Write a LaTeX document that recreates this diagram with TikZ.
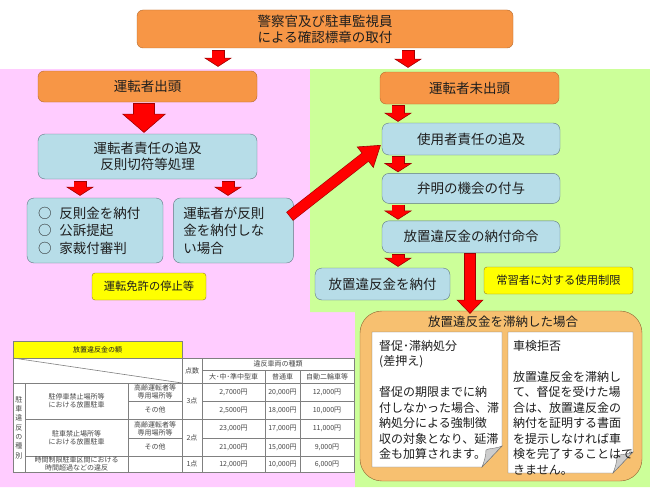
\documentclass[tikz,border=0pt]{standalone}
\usepackage{fontspec}
\setmainfont{Noto Sans CJK JP}
\usepackage{tikz}
\usetikzlibrary{positioning,calc,arrows.meta}
\usepackage{xcolor}
\definecolor{ink}{RGB}{30,30,30}
\definecolor{pinkbg}{RGB}{255,204,255}
\definecolor{greenbg}{RGB}{204,255,153}
\definecolor{orangefill}{RGB}{247,150,70}
\definecolor{orangeedge}{RGB}{180,105,45}
\definecolor{bluefill}{RGB}{183,221,232}
\definecolor{blueedge}{RGB}{95,120,130}
\definecolor{yellowfill}{RGB}{255,255,0}
\definecolor{yellowedge}{RGB}{150,120,40}
\definecolor{arrowred}{RGB}{255,0,0}
\definecolor{arrowedge}{RGB}{160,0,0}
\definecolor{arrearsfill}{RGB}{247,192,112}
\definecolor{arrearsedge}{RGB}{140,100,50}
\definecolor{noteedge}{RGB}{110,110,110}
\definecolor{foldgray}{RGB}{205,205,205}
\definecolor{tableline}{RGB}{128,128,128}
\definecolor{tabletext}{RGB}{70,70,70}

\begin{document}
\begin{tikzpicture}[
    x=1pt, y=-1pt,
    every node/.style={font=\fontsize{13.5}{16}\selectfont, text=ink, inner sep=0pt},
    obox/.style={
        draw=orangeedge,
        fill=orangefill,
        rounded corners=6pt,
        align=center
    },
    bbox/.style={
        draw=blueedge,
        fill=bluefill,
        rounded corners=7pt,
        align=center
    },
    ybox/.style={
        draw=yellowedge,
        fill=yellowfill,
        rounded corners=3pt,
        font=\fontsize{11.3}{13}\selectfont
    },
    redflow/.style n args={5}{
        draw=arrowedge,
        line width=#1,
        -{Triangle[width=#2,length=#3,line width=0.6pt,fill=arrowred]},
        postaction={draw=arrowred, line width=#4, -, shorten >=#5, shorten <=0.6pt}
    },
    smallflow/.style={redflow={13pt}{28pt}{9pt}{11.8pt}{7.5pt}},
    bigflow/.style={redflow={22pt}{44pt}{19pt}{20.8pt}{17.5pt}},
    longflow/.style={redflow={12pt}{27pt}{14pt}{10.8pt}{12.5pt}},
    diagflow/.style={redflow={11pt}{27pt}{20pt}{9.8pt}{18.5pt}},
    notetext/.style={font=\fontsize{12}{15.5}\selectfont, align=left},
    tabcell/.style={font=\fontsize{7}{8}\selectfont, text=tabletext, align=center},
    tabrule/.style={draw=tableline, line width=0.6pt}
]

\useasboundingbox (0,0) rectangle (650,487);

% backgrounds
\fill[white] (0,0) rectangle (650,487);
\fill[pinkbg] (0,69) -- (310,69) -- (310,312) -- (355,312) -- (355,487) -- (0,487) -- cycle;
\fill[greenbg] (310,69) -- (650,69) -- (650,487) -- (355,487) -- (355,312) -- (310,312) -- cycle;

\node[
    obox,
    minimum width=376pt,
    minimum height=38pt
] (police) at (325,29)
{警察官及び駐車監視員\\による確認標章の取付};

\node[
    obox,
    minimum width=219pt,
    minimum height=31pt
] (driver) at (147.5,86.5)
{運転者出頭};

\node[
    obox,
    minimum width=179pt,
    minimum height=32pt
] (absent) at (469.5,88)
{運転者未出頭};

\node[
    bbox,
    minimum width=219pt,
    minimum height=45pt
] (liability) at (147.5,156.5)
{運転者責任の追及\\反則切符等処理};

\node[
    bbox,
    minimum width=136pt,
    minimum height=65pt,
    text width=114pt,
    align=left,
    font=\fontsize{13.5}{17.5}\selectfont
] (settled) at (95,230.5)
{○\hspace{8pt}反則金を納付\\○\hspace{8pt}公訴提起\\○\hspace{8pt}家裁付審判};

\node[
    bbox,
    right=10pt of settled,
    minimum width=120pt,
    minimum height=65pt,
    text width=100pt,
    align=left,
    font=\fontsize{13.5}{17.5}\selectfont
] (unpaid)
{運転者が反則\\金を納付しな\\い場合};

\node[
    ybox,
    minimum width=114pt,
    minimum height=27pt
] (suspension) at (149,286.5)
{運転免許の停止等};

\node[
    bbox,
    minimum width=178pt,
    minimum height=32pt
] (owner) at (471,139)
{使用者責任の追及};

\node[
    bbox,
    below=18pt of owner,
    minimum width=178pt,
    minimum height=30pt
] (hearing)
{弁明の機会の付与};

\node[
    bbox,
    below=17pt of hearing,
    minimum width=178pt,
    minimum height=32pt
] (order)
{放置違反金の納付命令};

\node[
    bbox,
    minimum width=135pt,
    minimum height=32pt
] (payment) at (382.5,284)
{放置違反金を納付};

\node[
    ybox,
    minimum width=149pt,
    minimum height=27pt
] (restriction) at (558.5,280.5)
{常習者に対する使用制限};

\node[
    draw=arrearsedge,
    fill=arrearsfill,
    rounded corners=22pt,
    minimum width=282pt,
    minimum height=170pt
] (arrears) at (501,396)
{};

\node[
    font=\fontsize{12.5}{15}\selectfont
] (arrearstitle) at (503,322)
{放置違反金を滞納した場合};

% curled notes
\draw[draw=noteedge, fill=white] (372,332) -- (502,332) -- (502,446) -- (482,467) -- (372,467) -- cycle;
\draw[draw=noteedge, fill=foldgray] (502,446) .. controls (495,449) and (489,448) .. (486,450) .. controls (486,456) and (484,462) .. (482,467) -- cycle;
\draw[draw=noteedge, fill=white] (508,332) -- (633,332) -- (633,452) -- (613,473) -- (508,473) -- cycle;
\draw[draw=noteedge, fill=foldgray] (633,452) .. controls (626,455) and (620,454) .. (617,456) .. controls (617,462) and (615,468) .. (613,473) -- cycle;

\node[
    notetext,
    anchor=north west
] (dunning) at (379,340)
{督促･滞納処分\\(差押え)\\[15.5pt]督促の期限までに納\\付しなかった場合、滞\\納処分による強制徴\\収の対象となり、延滞\\金も加算されます。};

\node[
    notetext,
    anchor=north west
] (inspection) at (513,340)
{車検拒否\\[15.5pt]放置違反金を滞納し\\て、督促を受けた場\\合は、放置違反金の\\納付を証明する書面\\を提示しなければ車\\検を完了することはで\\きません。};

% fine table
\node[tabcell, draw=tableline, fill=yellowfill, text=ink, minimum width=169pt, minimum height=17pt] (finetitle) at (97.5,349.5) {放置違反金の額};
\fill[white] (13,358) rectangle (354,472);
\draw[tabrule] (13,358) rectangle (354,472);
\draw[tabrule] (13,358) -- (182,383);
\draw[tabrule] (13,383) -- (354,383);
\draw[tabrule] (202,370) -- (354,370);
\draw[tabrule] (182,358) -- (182,472);
\draw[tabrule] (202,358) -- (202,472);
\draw[tabrule] (265,370) -- (265,472);
\draw[tabrule] (300,370) -- (300,472);
\draw[tabrule] (25,383) -- (25,472);
\draw[tabrule] (128,383) -- (128,472);
\draw[tabrule] (25,419) -- (354,419);
\draw[tabrule] (25,456) -- (354,456);
\draw[tabrule] (128,401) -- (182,401);
\draw[tabrule] (202,401) -- (354,401);
\draw[tabrule] (128,438) -- (182,438);
\draw[tabrule] (202,438) -- (354,438);

\node[tabcell] (points) at (192,370.5) {点数};
\node[tabcell] (vehicles) at (278,364) {違反車両の種類};
\node[tabcell] (large) at (233.5,376.5) {大･中･準中型車};
\node[tabcell] (standard) at (282.5,376.5) {普通車};
\node[tabcell] (bike) at (327,376.5) {自動二輪車等};
\node[tabcell, font=\fontsize{7}{9.3}\selectfont] (kind) at (19,427.5) {駐\\車\\違\\反\\の\\種\\別};
\node[tabcell] (nostop) at (76.5,401) {駐停車禁止場所等\\における放置駐車};
\node[tabcell] (nopark) at (76.5,437.5) {駐車禁止場所等\\における放置駐車};
\node[tabcell] (overtime) at (76.5,464) {時間制限駐車区間における\\時間超過などの違反};
\node[tabcell] (senior1) at (155,392) {高齢運転者等\\専用場所等};
\node[tabcell] (other1) at (155,410) {その他};
\node[tabcell] (senior2) at (155,428.5) {高齢運転者等\\専用場所等};
\node[tabcell] (other2) at (155,447) {その他};
\node[tabcell] (three) at (192,401) {3点};
\node[tabcell] (two) at (192,437.5) {2点};
\node[tabcell] (one) at (192,464) {1点};
\node[tabcell] (fa1) at (233.5,392) {2,7000円};
\node[tabcell] (fb1) at (282.5,392) {20,000円};
\node[tabcell] (fc1) at (327,392) {12,000円};
\node[tabcell] (fa2) at (233.5,410) {2,5000円};
\node[tabcell] (fb2) at (282.5,410) {18,000円};
\node[tabcell] (fc2) at (327,410) {10,000円};
\node[tabcell] (fa3) at (233.5,428.5) {23,000円};
\node[tabcell] (fb3) at (282.5,428.5) {17,000円};
\node[tabcell] (fc3) at (327,428.5) {11,000円};
\node[tabcell] (fa4) at (233.5,447) {21,000円};
\node[tabcell] (fb4) at (282.5,447) {15,000円};
\node[tabcell] (fc4) at (327,447) {9,000円};
\node[tabcell] (fa5) at (233.5,464) {12,000円};
\node[tabcell] (fb5) at (282.5,464) {10,000円};
\node[tabcell] (fc5) at (327,464) {6,000円};

% arrows
\coordinate (leftdrop) at (218,0);
\coordinate (rightdrop) at (408,0);
\coordinate (driverdrop) at (144,0);
\coordinate (settledrop) at (80,0);
\coordinate (unpaiddrop) at (228,0);
\coordinate (ownerdrop) at (398,0);
\coordinate (arrearsdrop) at (470,0);

\draw[smallflow] ($(police.south -| leftdrop)+(0,2)$) -- ($(driver.north -| leftdrop)+(0,-4)$);
\draw[smallflow] ($(police.south -| rightdrop)+(0,2)$) -- ($(absent.north -| rightdrop)+(0,-4)$);
\draw[bigflow] ($(driver.south -| driverdrop)+(0,1)$) -- ($(liability.north -| driverdrop)+(0,-1)$);
\draw[smallflow] ($(liability.south -| settledrop)+(0,2)$) -- ($(settled.north -| settledrop)+(0,-2)$);
\draw[smallflow] ($(liability.south -| unpaiddrop)+(0,2)$) -- ($(unpaid.north -| unpaiddrop)+(0,-2)$);
\draw[smallflow] ($(absent.south -| ownerdrop)+(0,1)$) -- ($(owner.north -| ownerdrop)+(0,-1)$);
\draw[smallflow] ($(owner.south -| ownerdrop)+(0,1)$) -- ($(hearing.north -| ownerdrop)+(0,-1)$);
\draw[smallflow] ($(hearing.south -| ownerdrop)+(0,1)$) -- ($(order.north -| ownerdrop)+(0,-1)$);
\draw[smallflow] ($(order.south -| ownerdrop)+(0,1)$) -- ($(payment.north -| ownerdrop)+(0,-1)$);
\draw[longflow] (order.south -| arrearsdrop) -- ($(arrears.north -| arrearsdrop)+(0,3)$);
\draw[diagflow] ($(unpaid.east)+(-4,-14)$) -- ($(owner.west)+(-1,6)$);

\end{tikzpicture}
\end{document}
